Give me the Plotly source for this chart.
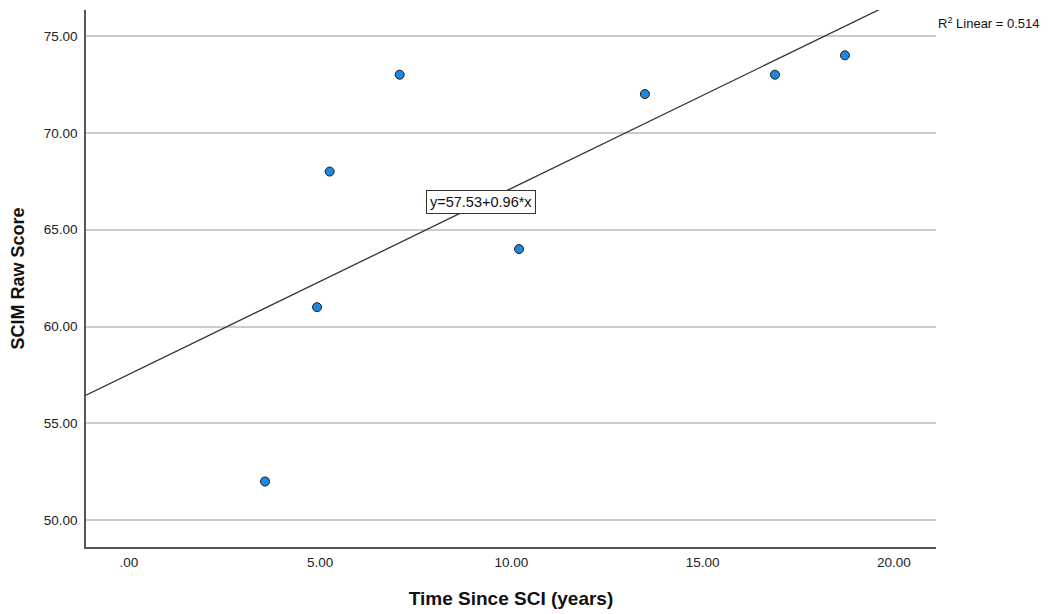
import plotly.graph_objects as go

time_years = [3.56, 4.92, 5.25, 7.08, 10.2, 13.49, 16.89, 18.72]
scim_score = [52, 61, 68, 73, 64, 72, 73, 74]
intercept = 57.53
slope = 0.96
r2 = 0.514
fit_x = [-1.12, 19.75]
fit_y = [intercept + slope * v for v in fit_x]
x_ticks = [0, 5, 10, 15, 20]
x_tick_labels = [".00", "5.00", "10.00", "15.00", "20.00"]
y_ticks = [50, 55, 60, 65, 70, 75]
y_tick_labels = ["50.00", "55.00", "60.00", "65.00", "70.00", "75.00"]

FONT = "Liberation Sans, Arial, sans-serif"

fig = go.Figure()
fig.add_trace(go.Scatter(x=fit_x, y=fit_y, mode="lines",
                         line=dict(color="#333333", width=1.3),
                         hoverinfo="skip", showlegend=False))
fig.add_trace(go.Scatter(x=time_years, y=scim_score, mode="markers",
                         marker=dict(size=9, color="#1e88e0",
                                     line=dict(color="#1a1a1a", width=1)),
                         showlegend=False))

fig.update_layout(
    width=1041, height=606,
    margin=dict(l=78, r=113, t=2, b=67, autoexpand=False),
    plot_bgcolor="white", paper_bgcolor="white",
    font=dict(family=FONT, size=13.5, color="#222222"),
    xaxis=dict(range=[-1.12, 21.1], tickvals=x_ticks, ticktext=x_tick_labels,
               showgrid=False, zeroline=False, showline=True, automargin=False,
               linecolor="#555555", linewidth=1.5, ticks="",
               ticklabelstandoff=2,
               title=dict(text="<b>Time Since SCI (years)</b>",
                          font=dict(size=19, color="#111111"), standoff=23)),
    yaxis=dict(range=[48.62, 76.34], tickvals=y_ticks, ticktext=y_tick_labels,
               showgrid=True, gridcolor="#cccccc", gridwidth=1.5, automargin=False,
               zeroline=False, showline=True,
               linecolor="#555555", linewidth=1.5, ticks="",
               ticklabelstandoff=4,
               title=dict(text="<b>SCIM Raw Score</b>",
                          font=dict(size=18, color="#111111"), standoff=18)),
    annotations=[
        dict(x=9.2, y=66.43, xref="x", yref="y",
             text=f"y={intercept:.2f}+{slope:.2f}*x", showarrow=False,
             font=dict(family=FONT, size=14.5, color="#111111"),
             bordercolor="#333333", borderwidth=1, borderpad=3, bgcolor="white"),
        dict(xref="paper", yref="paper", x=1.0, y=0.976,
             xanchor="left", yanchor="middle", showarrow=False,
             text=f"R<sup>2</sup> Linear = {r2:.3f}",
             font=dict(family=FONT, size=13, color="#111111")),
    ],
)

fig.write_html("out.html")
